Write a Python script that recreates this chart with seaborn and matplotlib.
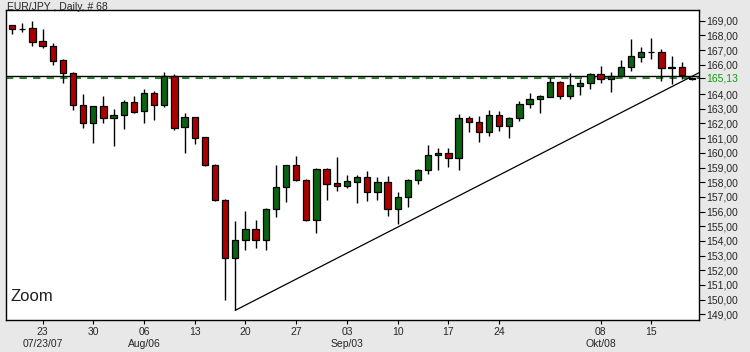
import numpy as np
import pandas as pd
import matplotlib
matplotlib.use("Agg")
import matplotlib.pyplot as plt
import seaborn as sns

# EUR/JPY daily candles, 18 Jul 2007 .. 19 Oct 2007 (68 bars)
opens = [168.68, 168.47, 168.48, 167.59, 167.27, 166.32, 165.41, 163.23, 162.05, 163.16,
         162.34, 162.61, 163.43, 162.82, 164.05, 163.27, 165.25, 161.73, 162.41, 161.05,
         159.14, 156.82, 152.86, 154.09, 154.84, 154.09, 156.20, 157.64, 159.14, 158.18,
         155.45, 158.93, 157.93, 157.75, 158.02, 158.32, 157.34, 157.98, 156.20, 157.00,
         158.18, 158.86, 159.82, 160.02, 159.68, 162.34, 162.07, 161.43, 162.61, 161.84,
         162.34, 163.30, 163.70, 163.82, 164.80, 163.89, 164.57, 164.73, 165.34, 165.00,
         165.23, 165.86, 166.55, 166.84, 166.84, 165.82, 165.82, 165.05]
highs = [168.72, 168.86, 168.95, 168.41, 167.45, 166.39, 165.52, 164.00, 163.18, 163.86,
         163.02, 163.59, 163.86, 164.34, 164.20, 165.50, 165.34, 162.68, 162.45, 161.10,
         159.27, 156.85, 155.36, 156.02, 155.41, 156.27, 159.16, 159.16, 159.77, 158.20,
         159.00, 159.00, 159.73, 158.48, 158.48, 158.73, 158.32, 158.41, 157.34, 158.25,
         158.93, 160.52, 160.34, 160.34, 162.64, 162.50, 162.50, 162.91, 162.84, 162.45,
         163.52, 164.05, 163.93, 165.18, 164.91, 165.41, 165.00, 165.45, 165.91, 165.50,
         166.32, 167.75, 167.23, 167.82, 167.05, 166.59, 166.16, 165.20]
lows = [168.09, 168.23, 167.27, 167.11, 165.95, 164.77, 162.95, 161.66, 160.68, 162.05,
        160.48, 161.59, 162.73, 162.05, 162.27, 163.14, 161.55, 160.00, 160.59, 159.10,
        156.73, 150.00, 149.27, 153.36, 153.52, 153.41, 155.64, 156.66, 158.09, 155.36,
        154.55, 156.77, 157.41, 157.57, 156.59, 156.73, 156.82, 155.73, 155.18, 156.32,
        157.86, 158.59, 158.86, 159.05, 158.86, 161.43, 160.75, 161.16, 161.50, 161.02,
        162.16, 163.07, 162.73, 163.77, 163.66, 163.64, 163.93, 164.32, 164.73, 164.16,
        165.23, 165.59, 166.16, 166.36, 164.91, 164.68, 165.02, 164.95]
closes = [168.41, 168.43, 167.57, 167.27, 166.27, 165.41, 163.23, 162.05, 163.16, 162.34,
          162.61, 163.43, 162.80, 164.05, 163.27, 165.25, 161.70, 162.41, 161.02, 159.14,
          156.77, 152.86, 154.09, 154.84, 154.09, 156.20, 157.64, 159.14, 158.16, 155.41,
          158.93, 157.91, 157.75, 158.05, 158.32, 157.34, 157.98, 156.20, 157.00, 158.18,
          158.86, 159.82, 160.02, 159.68, 162.34, 162.07, 161.43, 162.61, 161.84, 162.34,
          163.30, 163.70, 163.86, 164.80, 163.89, 164.59, 164.73, 165.34, 165.02, 165.25,
          165.86, 166.59, 166.84, 166.85, 165.75, 165.80, 165.30, 165.13]

last_price = 165.13
resistance = 165.25

# trend line from the 17 Aug low
trend_days = ["2007-08-17", "2007-10-19"]
trend_prices = [149.27, 165.21]

price_ticks = [149, 150, 151, 152, 153, 154, 155, 156, 157, 158, 159,
               160, 161, 162, 163, 164, 166, 167, 168, 169]
month_labels = {"2007-07-23": "07/23/07", "2007-08-06": "Aug/06",
                "2007-09-03": "Sep/03", "2007-10-08": "Okt/08"}
skip_days = ["2007-10-01"]

red = "#ac0000"
green = "#0a6212"

df = pd.DataFrame({"date": pd.bdate_range("2007-07-18", periods=len(opens)),
                   "open": opens, "high": highs, "low": lows, "close": closes})
df["i"] = np.arange(len(df))

sns.set_theme(style="white")
plt.rcParams["font.family"] = ["Liberation Sans", "DejaVu Sans"]

fig = plt.figure(figsize=(7.5, 3.52), dpi=100, facecolor="#e8e8e8")
ax = fig.add_axes([0.008, 0.0909, 0.924, 0.8798])
ax.set_facecolor("white")

xmin, xmax = -0.6, 67.7
ax.set_xlim(xmin, xmax)
ax.set_ylim(148.61, 169.71)

# support / last price lines
ax.axhline(resistance, color="black", lw=1, zorder=1)
ax.axhline(last_price, color="#2e7d32", lw=1.5, ls=(0, (3.5, 3)), zorder=1)

# candles
up = df["close"] >= df["open"]
ax.vlines(df["i"], df["low"], df["high"], color="black", lw=1, zorder=2)
body_h = (df["close"] - df["open"]).abs()
body_b = df[["open", "close"]].min(axis=1)
ax.bar(df["i"], body_h, bottom=body_b, width=0.62,
       color=np.where(up, green, red), edgecolor="black", linewidth=0.9, zorder=3)

# trend line, extended to the right edge
tx = [int(df.index[df["date"] == pd.Timestamp(d)][0]) for d in trend_days]
slope = (trend_prices[1] - trend_prices[0]) / (tx[1] - tx[0])
line = pd.DataFrame({"x": [tx[0], xmax],
                     "y": [trend_prices[0], trend_prices[0] + slope * (xmax - tx[0])]})
sns.lineplot(data=line, x="x", y="y", color="black", lw=0.9, ax=ax, zorder=4)

# x axis: Mondays
mondays = df[(df["date"].dt.weekday == 0) & (~df["date"].isin(pd.to_datetime(skip_days)))]
xlabels = []
for d in mondays["date"]:
    key = d.strftime("%Y-%m-%d")
    lab = d.strftime("%d")
    if key in month_labels:
        lab = lab + "\n" + month_labels[key]
    xlabels.append(lab)
ax.set_xticks(mondays["i"])
ax.set_xticklabels(xlabels, fontsize=7.5, linespacing=1.25)
ax.tick_params(axis="x", direction="out", length=3, width=0.8, pad=2, color="black",
               bottom=True)

# y axis on the right
ax.yaxis.tick_right()
yt = price_ticks + [last_price]
ax.set_yticks(yt)
ax.set_yticklabels([f"{v:.2f}".replace(".", ",") for v in yt], fontsize=7.5)
ax.tick_params(axis="y", direction="out", length=4, width=0.8, pad=1, color="black",
               right=True, left=False)
ax.get_yticklabels()[-1].set_color("#139a13")

ax.set_xlabel("")
ax.set_ylabel("")
for s in ax.spines.values():
    s.set_visible(True)
    s.set_color("black")
    s.set_linewidth(1)

ax.text(0.007, 0.06, "Zoom", transform=ax.transAxes, fontsize=12, color="#202020")
fig.text(0.009, 1 - 9.5 / 352, "EUR/JPY , Daily, # 68", fontsize=7.5, va="baseline")

fig.savefig("out.png", dpi=100, facecolor=fig.get_facecolor())
